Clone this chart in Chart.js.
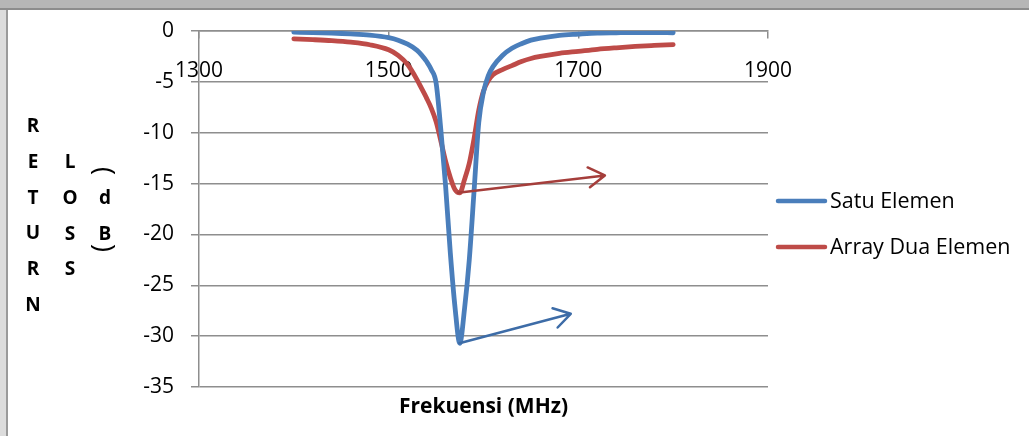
<!DOCTYPE html>
<html>
<head>
<meta charset="utf-8">
<script src="https://cdn.jsdelivr.net/npm/chart.js@4.4.0/dist/chart.umd.min.js"></script>
<style>
  html, body { margin: 0; padding: 0; background: #ffffff; }
  #wrap { position: relative; width: 1029px; height: 436px; overflow: hidden; background: #ffffff; }
  .band-top { position: absolute; left: 0; top: 0; width: 1029px; height: 8px; background: #b6b6b6; border-bottom: 2px solid #8c8c8c; }
  .band-left { position: absolute; left: 0; top: 0; width: 6px; height: 436px; background: #dcdcdc; border-right: 2px solid #9a9a9a; }
  #chart { position: absolute; left: 0; top: 0; }
  #ytitle { position: absolute; left: 0; top: 0; width: 140px; height: 436px; pointer-events: none; }
  #ytitle span { position: absolute; font-family: "Open Sans", "Noto Sans", sans-serif; font-weight: bold;
                 font-size: 19px; line-height: 1; color: #000; }
  #ytitle span.br { font-size: 27px; font-weight: normal; }
</style>
</head>
<body>
<div id="wrap">
  <div class="band-left"></div>
  <div class="band-top"></div>
  <canvas id="chart" width="1029" height="436"></canvas>
  <div id="ytitle"></div>
</div>
<script>
// Frequency sweep (MHz) and measured return loss (dB) for both antennas
const freqMHz = [1400, 1420, 1440, 1460, 1480, 1500, 1510, 1520, 1530, 1535, 1540, 1545, 1550, 1555,
                 1560, 1565, 1570, 1575, 1580, 1585, 1590, 1595, 1600, 1605, 1610, 1620, 1630, 1640,
                 1650, 1660, 1680, 1700, 1720, 1740, 1760, 1780, 1800];
const satuElemen = [-0.12, -0.15, -0.2, -0.28, -0.4, -0.65, -0.9, -1.3, -1.9, -2.4, -3.0, -3.8, -5.1, -9.7,
                    -15.2, -21.8, -27.2, -30.7, -27.3, -22.5, -15.8, -9.0, -6.0, -4.4, -3.5, -2.4, -1.7, -1.25,
                    -0.9, -0.7, -0.42, -0.3, -0.2, -0.17, -0.15, -0.15, -0.17];
const arrayDuaElemen = [-0.77, -0.85, -0.95, -1.1, -1.35, -1.85, -2.4, -3.3, -4.8, -5.7, -6.6, -7.6, -8.9, -10.8,
                        -12.8, -14.4, -15.6, -15.9, -14.6, -13.0, -10.6, -7.8, -5.9, -4.9, -4.3, -3.8, -3.4, -3.0,
                        -2.7, -2.5, -2.2, -2.0, -1.8, -1.65, -1.52, -1.42, -1.33];

const seriesNames = ['Satu Elemen', 'Array Dua Elemen'];
const xTickValues = [1300, 1500, 1700, 1900];
const yRange = [-35, 0];
const yStep = 5;
const xTitle = 'Frekuensi (MHz)';
// stacked axis title, one column per word
const yTitleColumns = [['R', 'E', 'T', 'U', 'R', 'N'], ['L', 'O', 'S', 'S'], ['(', 'd', 'B', ')']];

// Arrows pointing away from each resonance dip: [fromFreq, fromDb, toFreq, toDb]
const dipArrowRed = [1573, -15.9, 1728, -14.2];
const dipArrowBlue = [1574.5, -30.7, 1692, -27.8];

const BLUE = '#4a7ebb';
const RED = '#be4b48';
const GRID = '#8e8e8e';
const FONT = '"Open Sans", "Noto Sans", sans-serif';

function toPoints(xs, ys) { return xs.map((x, i) => ({ x: x, y: ys[i] })); }

// Stacked y axis title: letters in columns, brackets turned sideways
(function buildYTitle() {
  const host = document.getElementById('ytitle');
  const colX = [33, 70, 105];
  const colTop = [125, 161, 161];
  const rowGap = 35.8;
  yTitleColumns.forEach((col, ci) => {
    col.forEach((ch, ri) => {
      const s = document.createElement('span');
      s.textContent = ch;
      let cx = colX[ci], cy = colTop[ci] + ri * rowGap;
      let tf = 'translate(-50%, -50%)';
      if (ch === '(' || ch === ')') {
        s.className = 'br';
        cy = ch === '(' ? cy + 10 : cy - 20;
        tf += ' rotate(90deg)';
      }
      s.style.left = cx + 'px';
      s.style.top = cy + 'px';
      s.style.transform = tf;
      host.appendChild(s);
    });
  });
})();

const arrowPlugin = {
  id: 'dipArrows',
  afterDatasetsDraw(chart) {
    const xs = chart.scales.x, ys = chart.scales.y, ctx = chart.ctx;
    const draw = (a, color) => {
      const x0 = xs.getPixelForValue(a[0]), y0 = ys.getPixelForValue(a[1]);
      const x1 = xs.getPixelForValue(a[2]), y1 = ys.getPixelForValue(a[3]);
      const ang = Math.atan2(y1 - y0, x1 - x0);
      const head = 19, spread = 0.55;
      ctx.save();
      ctx.strokeStyle = color;
      ctx.lineWidth = 2.5;
      ctx.lineCap = 'round';
      ctx.lineJoin = 'round';
      ctx.beginPath();
      ctx.moveTo(x0, y0);
      ctx.lineTo(x1, y1);
      ctx.moveTo(x1 - head * Math.cos(ang - spread), y1 - head * Math.sin(ang - spread));
      ctx.lineTo(x1, y1);
      ctx.lineTo(x1 - head * Math.cos(ang + spread), y1 - head * Math.sin(ang + spread));
      ctx.stroke();
      ctx.restore();
    };
    draw(dipArrowRed, '#a53e3b');
    draw(dipArrowBlue, '#3d6ca7');
  }
};

const labelsPlugin = {
  id: 'chartLabels',
  afterDraw(chart) {
    const ctx = chart.ctx, area = chart.chartArea;
    ctx.save();
    ctx.fillStyle = '#000';
    // x axis title under the plot
    ctx.font = 'bold 21px ' + FONT;
    ctx.textAlign = 'center';
    ctx.textBaseline = 'middle';
    ctx.fillText(xTitle, (area.left + area.right) / 2, area.bottom + 20);

    // legend on the right
    const items = [[seriesNames[0], BLUE], [seriesNames[1], RED]];
    ctx.font = '21.5px ' + FONT;
    ctx.textAlign = 'left';
    items.forEach((it, i) => {
      const y = 201 + i * 46;
      ctx.strokeStyle = it[1];
      ctx.lineWidth = 4.5;
      ctx.lineCap = 'round';
      ctx.beginPath();
      ctx.moveTo(778, y);
      ctx.lineTo(825, y);
      ctx.stroke();
      ctx.fillText(it[0], 830, y + 1);
    });
    ctx.restore();
  }
};

new Chart(document.getElementById('chart'), {
  type: 'line',
  data: {
    datasets: [
      { label: seriesNames[0], data: toPoints(freqMHz, satuElemen), borderColor: BLUE, borderWidth: 4.8,
        pointRadius: 0, cubicInterpolationMode: 'monotone', fill: false, borderCapStyle: 'round', borderJoinStyle: 'round' },
      { label: seriesNames[1], data: toPoints(freqMHz, arrayDuaElemen), borderColor: RED, borderWidth: 4.8,
        pointRadius: 0, cubicInterpolationMode: 'monotone', fill: false, borderCapStyle: 'round', borderJoinStyle: 'round' }
    ]
  },
  options: {
    responsive: false,
    animation: false,
    events: [],
    layout: { padding: { top: 31, right: 261, bottom: 49, left: 0 } },
    plugins: { legend: { display: false }, tooltip: { enabled: false }, title: { display: false } },
    scales: {
      x: {
        type: 'linear',
        position: { y: 0 },
        min: xTickValues[0],
        max: xTickValues[xTickValues.length - 1],
        afterBuildTicks: (s) => { s.ticks = xTickValues.map(v => ({ value: v })); },
        grid: { drawOnChartArea: false, drawTicks: true, tickLength: 7, color: GRID, lineWidth: 1.5 },
        border: { display: true, color: GRID, width: 1.5 },
        ticks: { color: '#000', font: { family: FONT, size: 21 }, padding: 20, maxRotation: 0,
                 callback: (v) => String(v) }
      },
      y: {
        type: 'linear',
        min: yRange[0],
        max: yRange[1],
        afterFit: (s) => { s.width = 199; },
        grid: { color: GRID, lineWidth: 1.5, tickLength: 8, drawTicks: true },
        border: { display: true, color: GRID, width: 1.5 },
        ticks: { stepSize: yStep, color: '#000', font: { family: FONT, size: 21 }, padding: 17 }
      }
    }
  },
  plugins: [arrowPlugin, labelsPlugin]
});
</script>
</body>
</html>
